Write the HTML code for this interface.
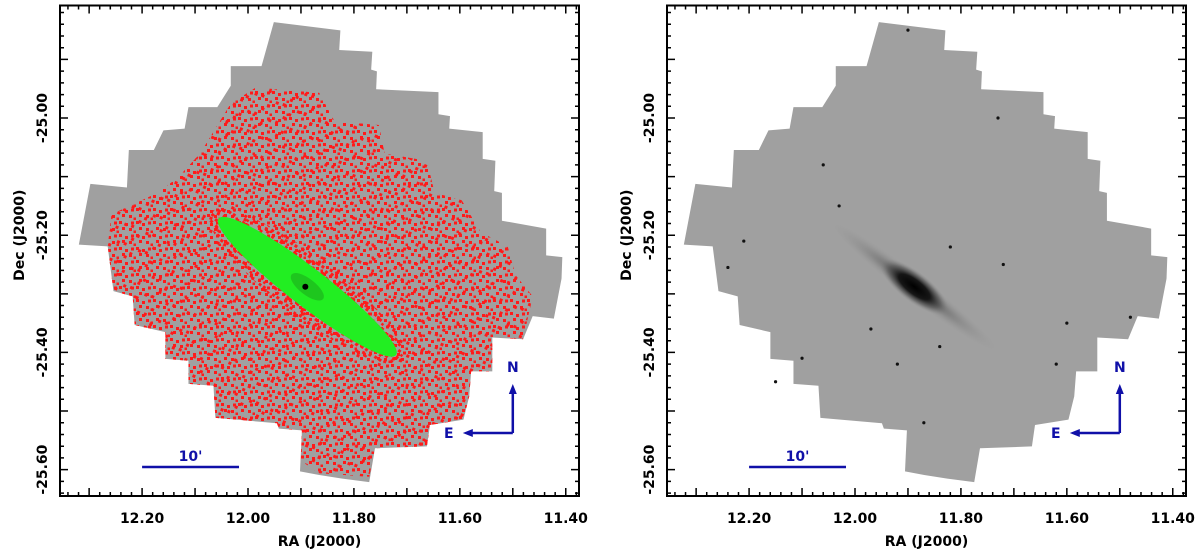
<!DOCTYPE html>
<html><head><meta charset="utf-8"><style>
html,body{margin:0;padding:0;background:#fff;}
svg{display:block;font-family:"DejaVu Sans","Liberation Sans",sans-serif;}
.tl{font-size:14px;font-weight:bold;fill:#000;}
.blue{fill:#1010a8;font-weight:bold;font-size:14px;}
</style></head><body>
<svg id="s" width="1200" height="557" viewBox="0 0 1200 557" xmlns="http://www.w3.org/2000/svg">
<defs>
<pattern id="dots" width="17" height="13" patternUnits="userSpaceOnUse">
<rect x="0" y="0" width="3" height="3" fill="#ff1a1a"/>
<rect x="6" y="2" width="3" height="3" fill="#ff1a1a"/>
<rect x="12" y="0.5" width="3" height="3" fill="#ff1a1a"/>
<rect x="3" y="6" width="3" height="3" fill="#ff1a1a"/>
<rect x="10" y="7" width="3" height="3" fill="#ff1a1a"/>
<rect x="14.5" y="9.5" width="2.5" height="2.5" fill="#ff1a1a"/>
</pattern>
<pattern id="dots2" width="23" height="19" patternUnits="userSpaceOnUse" patternTransform="rotate(23)">
<rect x="2" y="3" width="3" height="3" fill="#ff1a1a"/>
<rect x="11" y="10" width="3" height="3" fill="#ff1a1a"/>
<rect x="18" y="4" width="3" height="3" fill="#ff1a1a"/>
<rect x="7" y="15" width="3" height="3" fill="#ff1a1a"/>
</pattern>
<radialGradient id="gal" cx="50%" cy="50%" r="50%">
<stop offset="0" stop-color="#000" stop-opacity="1"/>
<stop offset="0.45" stop-color="#111" stop-opacity="0.95"/>
<stop offset="0.75" stop-color="#444" stop-opacity="0.5"/>
<stop offset="1" stop-color="#888" stop-opacity="0"/>
</radialGradient>
<radialGradient id="disk" cx="50%" cy="50%" r="50%">
<stop offset="0" stop-color="#333" stop-opacity="0.8"/>
<stop offset="0.6" stop-color="#777" stop-opacity="0.35"/>
<stop offset="1" stop-color="#999" stop-opacity="0"/>
</radialGradient>
</defs>
<g id="left"></g>
<g id="right"></g>
</svg>
<script>
// axis data
const raTicksMajor = [12.30,12.20,12.10,12.00,11.90,11.80,11.70,11.60,11.50,11.40];
const raTickLabels = ["12.20","12.00","11.80","11.60","11.40"];
const decTicksMajor = [-24.90,-25.00,-25.10,-25.20,-25.30,-25.40,-25.50,-25.60];
const decTickLabels = ["-25.00","-25.20","-25.40","-25.60"];
const raDomain = [12.355, 11.375];
const decDomain = [-24.808, -25.645];
// galaxy parameters in data coords
const galaxyCenter = [11.888, -25.288];
const galaxyEnds = [[12.053, -25.171], [11.718, -25.404]];
// foreground stars in right panel (RA, Dec)
const starRA = [12.24,12.21,12.06,11.97,12.15,11.84,11.72,11.60,11.62,11.48,11.87,11.92,12.10,11.90,11.82,12.03,11.73];
const starDec = [-25.255,-25.21,-25.08,-25.36,-25.45,-25.39,-25.25,-25.35,-25.42,-25.34,-25.52,-25.42,-25.41,-24.85,-25.22,-25.15,-25.0];

const NS = "http://www.w3.org/2000/svg";
function el(tag, attrs, parent){const e=document.createElementNS(NS,tag);for(const k in attrs)e.setAttribute(k,attrs[k]);parent.appendChild(e);return e;}

const footZ = [[712,62],[885,85],[882,140],[968,145],[965,195],[980,200],[978,250],[1140,258],[1140,320],[1170,325],[1168,360],[1255,370],[1255,445],[1288,450],[1285,535],[1305,540],[1305,618],[1420,640],[1420,715],[1462,720],[1460,780],[1440,892],[1385,885],[1360,950],[1280,945],[1280,1040],[1225,1040],[1220,1110],[1205,1175],[1118,1190],[1110,1250],[975,1255],[960,1350],[890,1340],[830,1330],[780,1320],[785,1205],[725,1200],[720,1185],[560,1170],[555,1080],[490,1075],[490,1010],[430,1005],[430,930],[350,910],[345,830],[295,815],[280,690],[205,685],[235,515],[330,525],[335,420],[400,420],[425,365],[480,360],[490,300],[565,300],[600,240],[600,185],[680,185]];
const redZ = [[665,245],[830,260],[870,340],[985,350],[1000,430],[1110,450],[1130,540],[1200,560],[1250,650],[1320,690],[1340,770],[1385,830],[1360,950],[1280,945],[1280,1040],[1225,1040],[1220,1110],[1205,1175],[1118,1190],[1110,1250],[975,1255],[960,1335],[830,1325],[782,1290],[785,1205],[725,1200],[720,1185],[560,1170],[555,1080],[490,1075],[490,1010],[430,1005],[430,930],[350,910],[345,830],[295,815],[280,690],[290,600],[400,545],[460,500],[520,430],[560,360],[600,290]];

function panel(g, ox, isLeft){
  const X0=60+ox, X1=579+ox, Y0=5.5, Y1=496;
  const xs = v => X0 + (raDomain[0]-v)/(raDomain[0]-raDomain[1])*(X1-X0);
  const ys = v => Y0 + (decDomain[0]-v)/(decDomain[0]-decDomain[1])*(Y1-Y0);
  const conv = p => ((p[0]/2.6)+ (isLeft?0:605)) + "," + (p[1]/2.8);
  const fp = el('polygon',{points:footZ.map(conv).join(' '),fill:'#a0a0a0'},g);
  
  
  const cx=xs(galaxyCenter[0]), cy=ys(galaxyCenter[1]);
  const ax=xs(galaxyEnds[0][0]), ay=ys(galaxyEnds[0][1]), bx=xs(galaxyEnds[1][0]), by=ys(galaxyEnds[1][1]);
  const len=Math.hypot(bx-ax,by-ay)/2, ang=Math.atan2(by-ay,bx-ax)*180/Math.PI;
  if(isLeft){
    const rp = el('polygon',{points:redZ.map(conv).join(' '),fill:'url(#dots)'},g);
    
    
    const rp2 = el('polygon',{points:redZ.map(conv).join(' '),fill:'url(#dots2)'},g);
    
    
    const halo = el('ellipse',{cx:cx,cy:cy,rx:len+10,ry:30,fill:'url(#dots)',transform:`rotate(${ang} ${cx} ${cy})`},g);
    
    
    const e = el('ellipse',{cx:cx,cy:cy,rx:len,ry:19,fill:'#22ee22',transform:`rotate(${ang} ${cx} ${cy})`},g);
    
    
    const core = el('ellipse',{cx:cx,cy:cy,rx:20,ry:8,fill:'#1a8a1a',opacity:0.4,transform:`rotate(${ang} ${cx} ${cy})`},g);
    
    
    el('circle',{cx:cx-2,cy:cy,r:3,fill:'#000'},g);
  } else {
    const d = el('ellipse',{cx:cx,cy:cy,rx:len*0.95,ry:12,fill:'url(#disk)',transform:`rotate(${ang} ${cx} ${cy})`},g);
    
    
    const c = el('ellipse',{cx:cx,cy:cy,rx:42,ry:15,fill:'url(#gal)',transform:`rotate(${ang} ${cx} ${cy})`},g);
    
    
    starRA.forEach((r,i)=>{
      const s=el('circle',{cx:xs(r),cy:ys(starDec[i]),r:1.6,fill:'#111'},g);
      
      
    });
  }
  const fr = el('rect',{x:X0,y:Y0,width:X1-X0,height:Y1-Y0,fill:'none',stroke:'#000','stroke-width':2},g);
  
  
  let tp='';
  raTicksMajor.forEach(v=>{const x=xs(v);tp+=`M${x},${Y1}v-8M${x},${Y0}v8`;});
  for(let v=12.34; v>11.37; v-=0.02){const x=xs(v);tp+=`M${x},${Y1}v-4M${x},${Y0}v4`;}
  decTicksMajor.forEach(v=>{const y=ys(v);tp+=`M${X0},${y}h8M${X1},${y}h-8`;});
  for(let v=-24.82; v>-25.64; v-=0.02){const y=ys(v);tp+=`M${X0},${y}h4M${X1},${y}h-4`;}
  const t = el('path',{d:tp,stroke:'#000','stroke-width':1.5,fill:'none'},g);
  
  
  raTickLabels.forEach(s=>{const tx=el('text',{x:xs(+s),y:523,'text-anchor':'middle',class:'tl'},g);tx.textContent=s;
    });
  decTickLabels.forEach(s=>{const y=ys(+s);const tx=el('text',{x:0,y:0,'text-anchor':'middle',class:'tl',transform:`translate(${X0-13},${y}) rotate(-90)`},g);tx.textContent=s;
    });
  const xt=el('text',{x:(X0+X1)/2,y:546,'text-anchor':'middle',class:'tl'},g);xt.textContent='RA (J2000)';
  
  const yt=el('text',{x:0,y:0,'text-anchor':'middle',class:'tl',transform:`translate(${X0-36},${ys(-25.2)}) rotate(-90)`},g);yt.textContent='Dec (J2000)';
  
  const sb=el('line',{x1:xs(12.2),x2:xs(12.017),y1:467,y2:467,stroke:'#1010a8','stroke-width':2.5},g);
  
  const st=el('text',{x:(xs(12.2)+xs(12.017))/2,y:461,'text-anchor':'middle',class:'blue'},g);st.textContent="10'";
  
  const ex=xs(11.5), ey=433;
  const cp=el('path',{d:`M${ex},${ey}V388M${ex},${ey}H${ex-46}`,stroke:'#1010a8','stroke-width':2.5,fill:'none'},g);
  
  el('path',{d:`M${ex},384l-4,10h8zM${ex-50},${ey}l10,-4v8z`,fill:'#1010a8'},g);
  const n=el('text',{x:ex,y:372,'text-anchor':'middle',class:'blue'},g);n.textContent='N';
  
  const e2=el('text',{x:ex-64,y:438,'text-anchor':'middle',class:'blue'},g);e2.textContent='E';
  
}
panel(document.getElementById('left'),0,true);
panel(document.getElementById('right'),607,false);
</script>
</body></html>
